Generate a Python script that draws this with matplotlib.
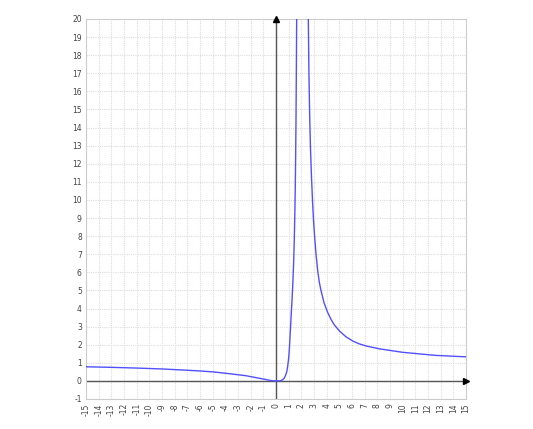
import matplotlib
matplotlib.use("Agg")
import matplotlib.pyplot as plt

# points
x_left = [-15, -13, -11, -9, -7.6, -6, -5, -3.7, -2.4, -1.5, -0.9, -0.5, -0.2, 0,
          0.2, 0.35, 0.52, 0.65, 0.75, 0.85, 0.92, 1.0, 1.05, 1.12, 1.18, 1.26,
          1.33, 1.39, 1.44, 1.48, 1.52, 1.55, 1.58, 1.61, 1.64]
y_left = [0.78, 0.75, 0.71, 0.66, 0.61, 0.55, 0.5, 0.4, 0.29, 0.17, 0.09, 0.03, 0.005, 0,
          0.0, 0.01, 0.06, 0.15, 0.3, 0.5, 0.8, 1.25, 1.72, 2.6, 3.4, 4.4,
          5.4, 6.5, 7.7, 9.0, 10.6, 12.3, 14.5, 17.5, 21.0]
x_right = [2.5, 2.55, 2.6, 2.66, 2.72, 2.8, 2.88, 2.96, 3.05, 3.16, 3.29, 3.42, 3.55,
           3.8, 4.07, 4.36, 4.6, 5.02, 5.52, 6.07, 6.6, 7.13, 8.18, 10, 12.6, 15]
y_right = [24.0, 20.0, 17.0, 14.6, 12.9, 11.3, 10.0, 8.9, 7.95, 7.0, 6.1, 5.45, 5.0,
           4.3, 3.8, 3.38, 3.1, 2.75, 2.44, 2.2, 2.04, 1.93, 1.77, 1.58, 1.41, 1.33]

x_ticks = list(range(-15, 16))
y_ticks = list(range(-1, 21))

fig = plt.figure(figsize=(5.33, 4.29), dpi=100)
ax = fig.add_axes([86 / 533, 30 / 429, 380 / 533, 380 / 429])

ax.set_xlim(-15, 15)
ax.set_ylim(-1, 20)

ax.set_xticks(x_ticks)
ax.set_yticks(y_ticks)
ax.set_xticklabels([str(t) for t in x_ticks], rotation=90, fontsize=5.5, color="#444444")
ax.set_yticklabels([str(t) for t in y_ticks], fontsize=5.5, color="#444444")
ax.tick_params(length=0, pad=3)

ax.grid(True, color="#dddddd", linestyle=(0, (1, 1)), linewidth=0.8)
ax.set_axisbelow(True)
for s in ax.spines.values():
    s.set_color("#cccccc")
    s.set_linewidth(0.8)

# coordinate axes with arrowheads
ax.axhline(0, color="#555555", lw=1, zorder=2)
ax.axvline(0, color="#555555", lw=1, zorder=2)
ax.plot([15], [0], marker=">", color="black", markersize=5, clip_on=False, zorder=4)
ax.plot([0], [20], marker="^", color="black", markersize=5, clip_on=False, zorder=4)

ax.plot(x_left, y_left, color="#5050ff", lw=1, zorder=3)
ax.plot(x_right, y_right, color="#5050ff", lw=1, zorder=3)

fig.savefig("out.png", dpi=100)
